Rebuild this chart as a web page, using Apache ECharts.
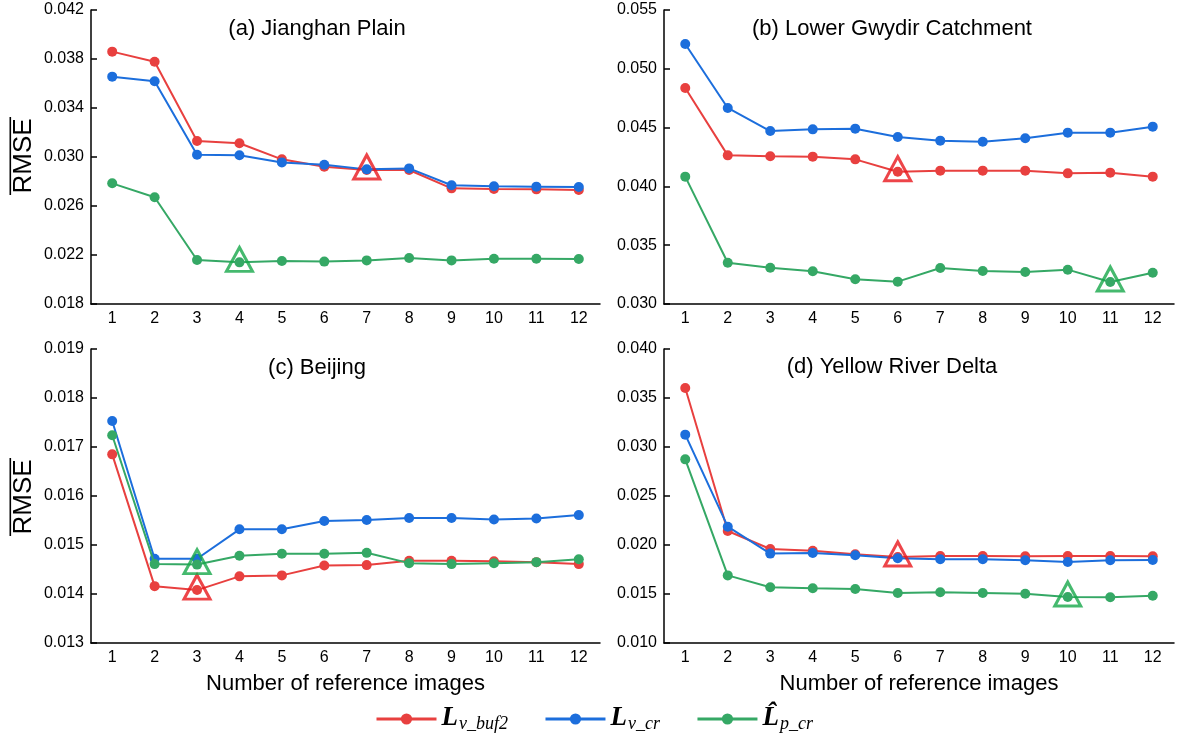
<!DOCTYPE html>
<html>
<head>
<meta charset="utf-8">
<title>RMSE vs number of reference images</title>
<script src="https://cdn.jsdelivr.net/npm/echarts@6/dist/echarts.min.js"></script>
<style>
  html, body { margin: 0; padding: 0; background: #fff; }
  #chart { width: 1182px; height: 745px; }
</style>
</head>
<body>
<div id="chart"></div>
<script>
// Number of reference images (x categories)
const steps = ['1', '2', '3', '4', '5', '6', '7', '8', '9', '10', '11', '12'];

// (a) Jianghan Plain
const jianghanBuf2 = [0.03860, 0.03778, 0.03131, 0.03112, 0.02981, 0.02921, 0.02894, 0.02894, 0.02744, 0.02739, 0.02736, 0.02731];
const jianghanCr   = [0.03656, 0.03618, 0.03019, 0.03014, 0.02956, 0.02937, 0.02899, 0.02907, 0.02769, 0.02761, 0.02758, 0.02755];
const jianghanPcr  = [0.02785, 0.02671, 0.02159, 0.02140, 0.02151, 0.02146, 0.02156, 0.02176, 0.02156, 0.02170, 0.02170, 0.02167];

// (b) Lower Gwydir Catchment
const gwydirBuf2 = [0.04837, 0.04264, 0.04256, 0.04253, 0.04230, 0.04125, 0.04134, 0.04134, 0.04134, 0.04111, 0.04117, 0.04083];
const gwydirCr   = [0.05211, 0.04667, 0.04471, 0.04485, 0.04491, 0.04420, 0.04389, 0.04380, 0.04409, 0.04457, 0.04457, 0.04508];
const gwydirPcr  = [0.04083, 0.03351, 0.03309, 0.03278, 0.03210, 0.03190, 0.03306, 0.03281, 0.03272, 0.03292, 0.03187, 0.03266];

// (c) Beijing
const beijingBuf2 = [0.01685, 0.01416, 0.01408, 0.01436, 0.01438, 0.01458, 0.01459, 0.01468, 0.01468, 0.01467, 0.01465, 0.01461];
const beijingCr   = [0.01753, 0.01472, 0.01472, 0.01532, 0.01532, 0.01549, 0.01551, 0.01555, 0.01555, 0.01552, 0.01554, 0.01561];
const beijingPcr  = [0.01724, 0.01461, 0.01460, 0.01478, 0.01482, 0.01482, 0.01484, 0.01463, 0.01461, 0.01463, 0.01465, 0.01471];

// (d) Yellow River Delta
const deltaBuf2 = [0.03602, 0.02143, 0.01959, 0.01942, 0.01905, 0.01878, 0.01888, 0.01888, 0.01884, 0.01888, 0.01888, 0.01884];
const deltaCr   = [0.03126, 0.02187, 0.01912, 0.01918, 0.01895, 0.01864, 0.01854, 0.01854, 0.01844, 0.01827, 0.01844, 0.01847];
const deltaPcr  = [0.02874, 0.01690, 0.01568, 0.01558, 0.01551, 0.01510, 0.01517, 0.01510, 0.01503, 0.01469, 0.01466, 0.01483];

// Y-axis ranges per panel: [min, max, step]
const jianghanTicks = [0.018, 0.042, 0.004];
const gwydirTicks   = [0.030, 0.055, 0.005];
const beijingTicks  = [0.013, 0.019, 0.001];
const deltaTicks    = [0.010, 0.040, 0.005];

// Selected number of reference images (0-based index) for L_v_buf2 and L^_p_cr
const jianghanPicks = [6, 3];
const gwydirPicks   = [5, 10];
const beijingPicks  = [2, 2];
const deltaPicks    = [5, 9];

const panelTitles = ['(a) Jianghan Plain', '(b) Lower Gwydir Catchment', '(c) Beijing', '(d) Yellow River Delta'];
const seriesNames = ['Lv_buf2', 'Lv_cr', 'Lp_cr'];

const panels = [
  { buf2: jianghanBuf2, cr: jianghanCr, pcr: jianghanPcr, ticks: jianghanTicks, picks: jianghanPicks },
  { buf2: gwydirBuf2,   cr: gwydirCr,   pcr: gwydirPcr,   ticks: gwydirTicks,   picks: gwydirPicks },
  { buf2: beijingBuf2,  cr: beijingCr,  pcr: beijingPcr,  ticks: beijingTicks,  picks: beijingPicks },
  { buf2: deltaBuf2,    cr: deltaCr,    pcr: deltaPcr,    ticks: deltaTicks,    picks: deltaPicks }
];

const lineColors = ['#E8403F', '#1C6EDC', '#35A865'];
const pickColors = ['#E8161C', '#16A84A'];
const SANS = 'Liberation Sans, Arial, sans-serif';
const SERIF = 'Liberation Serif, Times New Roman, serif';

const gridBoxes = [
  { left: 91,  top: 10,  width: 509, height: 294 },
  { left: 664, top: 10,  width: 510, height: 294 },
  { left: 91,  top: 349, width: 509, height: 294 },
  { left: 664, top: 349, width: 510, height: 294 }
];

const axisLineStyle = { color: '#000', width: 1.5 };

const xAxes = gridBoxes.map((g, i) => ({
  type: 'category',
  gridIndex: i,
  data: steps,
  boundaryGap: true,
  axisLine: { lineStyle: axisLineStyle },
  axisTick: { alignWithLabel: true, inside: true, length: 6, lineStyle: axisLineStyle },
  axisLabel: { color: '#000', fontSize: 16, fontFamily: SANS, margin: 7 },
  splitLine: { show: false },
  name: i >= 2 ? 'Number of reference images' : '',
  nameLocation: 'middle',
  nameGap: 30,
  nameTextStyle: { color: '#000', fontSize: 22, fontFamily: SANS }
}));

const yAxes = panels.map((p, i) => ({
  type: 'value',
  gridIndex: i,
  min: p.ticks[0],
  max: p.ticks[1],
  interval: p.ticks[2],
  axisLine: { show: true, lineStyle: axisLineStyle },
  axisTick: { show: true, inside: true, length: 6, lineStyle: axisLineStyle },
  axisLabel: { color: '#000', fontSize: 16, fontFamily: SANS, margin: 7, formatter: v => v.toFixed(3) },
  splitLine: { show: false }
}));

const series = [];
panels.forEach((p, i) => {
  [p.buf2, p.cr, p.pcr].forEach((vals, k) => {
    series.push({
      name: seriesNames[k],
      type: 'line',
      xAxisIndex: i,
      yAxisIndex: i,
      data: vals,
      symbol: 'circle',
      symbolSize: 10,
      showSymbol: true,
      lineStyle: { color: lineColors[k], width: 2 },
      itemStyle: { color: lineColors[k] },
      emphasis: { disabled: true },
      z: 2 + k
    });
  });
  // hollow triangles marking the selected reference count
  series.push({
    type: 'scatter',
    xAxisIndex: i,
    yAxisIndex: i,
    symbol: 'triangle',
    symbolSize: [26, 24],
    symbolOffset: [0, -3],
    z: 10,
    silent: true,
    data: [
      { value: [p.picks[0], p.buf2[p.picks[0]]], itemStyle: { color: 'rgba(0,0,0,0)', borderColor: pickColors[0], borderWidth: 3 } },
      { value: [p.picks[1], p.pcr[p.picks[1]]], itemStyle: { color: 'rgba(0,0,0,0)', borderColor: pickColors[1], borderWidth: 3 } }
    ]
  });
});

const titleCenters = [[317, 29], [892, 29], [317, 368], [892, 367]];
const graphics = panelTitles.map((t, i) => ({
  type: 'text',
  x: titleCenters[i][0],
  y: titleCenters[i][1],
  style: { text: t, font: '22px ' + SANS, fill: '#000', textAlign: 'center', textVerticalAlign: 'middle' }
}));

// Overlined RMSE labels for the left column
[156, 497].forEach(cy => {
  graphics.push({
    type: 'text',
    x: 24,
    y: cy,
    rotation: Math.PI / 2,
    style: { text: 'RMSE', font: '26px ' + SANS, fill: '#000', textAlign: 'center', textVerticalAlign: 'middle' }
  });
  graphics.push({
    type: 'rect',
    shape: { x: 9.5, y: cy - 39, width: 1.6, height: 78 },
    style: { fill: '#000' }
  });
});

const legendText = {
  'Lv_buf2': '{L|L}{s|v_buf2}',
  'Lv_cr': '{L|L}{s|v_cr}',
  'Lp_cr': '{L|L\u0302}{s|p_cr}'
};

const option = {
  backgroundColor: '#fff',
  animation: false,
  grid: gridBoxes,
  xAxis: xAxes,
  yAxis: yAxes,
  series: series,
  graphic: graphics,
  legend: {
    data: seriesNames,
    left: 375,
    top: 701,
    padding: 0,
    itemWidth: 60,
    itemHeight: 14,
    itemGap: 36,
    selectedMode: false,
    lineStyle: { width: 3 },
    formatter: name => legendText[name],
    textStyle: {
      color: '#000',
      rich: {
        L: { fontFamily: SERIF, fontStyle: 'italic', fontWeight: 'bold', fontSize: 27, lineHeight: 28, verticalAlign: 'top', color: '#000' },
        s: { fontFamily: SERIF, fontStyle: 'italic', fontSize: 18, lineHeight: 20, padding: [14, 0, 0, 1], verticalAlign: 'bottom', color: '#000' }
      }
    }
  }
};

const chart = echarts.init(document.getElementById('chart'), null, { renderer: 'canvas' });
chart.setOption(option);
</script>
</body>
</html>
